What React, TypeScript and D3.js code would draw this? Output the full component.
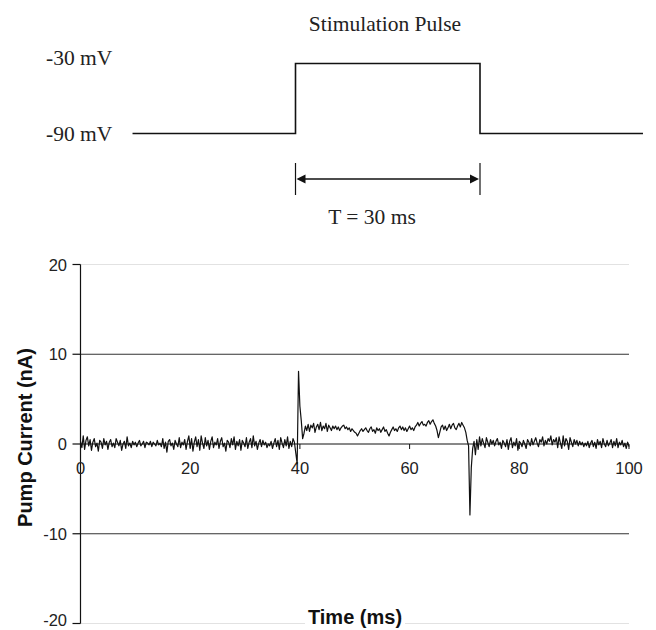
import React from "react";
import * as d3 from "d3";

// ---------- data ----------
const SAMPLE_STEP = 0.25; // ms between samples

// Pump current (nA), 0 – 39.25 ms
const preCurrent = [
  0.3, -0.4, 0.9, -0.6, 0.4, 0.8, -0.2, 0.5, -0.7, 0.2, 0.6, -0.3, 0.1, -0.8, 0.4, 0.2, -0.5, 0.6, -0.1, 0.3,
  -0.6, 0.2, 0.5, -0.3, 0.1, -0.4, 0.6, 0.2, -0.2, 0.4, -0.7, 0.0, 0.3, -0.5, 0.8, -0.2, 0.1, -0.4, 0.3, -0.1,
  0.2, -0.3, 0.1, 0.4, -0.2, 0.0, 0.3, -0.4, 0.2, 0.1, -0.1, 0.3, -0.3, 0.2, 0.0, -0.2, 0.4, -0.1, 0.1, -0.3,
  0.6, -0.5, 0.2, -0.9, 0.3, 0.5, -0.2, 0.1, -0.6, 0.4, 0.0, -0.3, 0.7, -0.4, 0.2, -0.1, 0.5, -0.6, 0.3, 0.9,
  -0.4, 0.6, -0.8, 0.2, 0.8, -0.3, 0.5, -0.7, 0.9, 0.1, -0.5, 0.7, -0.2, 0.4, -0.6, 0.3, 0.8, -0.4, 0.2, -0.1,
  0.6, -0.5, 0.3, 0.7, -0.3, 0.1, -0.8, 0.4, 0.2, -0.4, 0.6, -0.1, 0.8, -0.6, 0.3, -0.2, 0.5, -0.7, 0.4, 0.1,
  -0.3, 0.7, -0.5, 0.2, 0.6, -0.4, 0.9, -0.2, 0.3, -0.6, 0.1, 0.5, -0.3, 0.4, -0.1, 0.2, -0.4, 0.0, -0.2, 0.3,
  -0.5, 0.1, 0.6, -0.3, 0.4, -0.6, 0.7, 0.1, -0.4, 0.5, -0.2, 0.8, -0.5, 0.3, -0.3, 0.6, 0.2, -1.0,
];
// 39.5 – 41.0 ms (onset transient)
const onsetCurrent = [-2.2, 8.1, 4.2, 2.6, 0.6, 1.2, 2.0];
// 41.25 – 70.5 ms (plateau during pulse)
const plateauCurrent = [
  1.5, 2.2, 1.4, 2.1, 1.8, 2.3, 1.3, 1.9, 2.2, 1.6, 2.4, 1.5, 2.0, 1.7, 2.3, 1.4, 2.1, 1.8, 1.5, 2.0,
  1.7, 2.0, 1.6, 1.9, 1.5, 1.8, 2.0, 2.1, 1.7, 1.9, 1.6, 1.8, 1.4, 1.7, 1.5, 1.3, 1.2,
  0.9,
  1.2, 1.5, 1.7, 1.4, 1.6, 1.8, 1.5, 1.3, 1.7, 1.9, 1.4, 1.6, 1.2, 1.8, 1.5, 1.7, 1.3, 1.6, 1.9, 1.4, 1.6, 1.2,
  0.9,
  1.3, 1.6, 1.9, 1.5, 1.7, 1.4, 1.8, 2.0, 1.6, 1.9, 1.5, 1.8, 1.4, 1.7, 2.0, 1.6, 1.8, 1.5, 1.9,
  2.1, 2.4, 2.0, 2.3, 2.5, 2.1, 2.2, 2.0, 2.4, 2.6, 2.2, 2.5, 2.7, 2.3, 2.0,
  1.5, 0.7,
  1.3, 1.9, 2.1, 1.6, 2.0, 1.5, 1.8, 2.2, 1.7, 2.1, 2.3, 1.8, 1.6, 2.0, 2.3, 1.9, 2.4, 2.1,
  1.8, 1.3, 0.4,
];
// 70.75 – 72.0 ms (offset transient)
const offsetCurrent = [-0.2, -7.9, -2.6, -0.5, 0.3, -1.2];
// 72.25 – 100 ms
const postCurrent = [
  0.5, -0.6, 0.8, -0.2, 0.6, 0.1, -0.4, 0.7, 0.2, -0.3, 0.5, 0.0, 0.4, -0.2, 0.3, 0.6, -0.1, 0.2, -0.5, 0.4,
  0.1, -0.3, 0.5, -0.6, 0.3, 0.7, -0.4, 0.2, -0.2, 0.6, -0.7, 0.3, 0.1, -0.3, 0.4, 0.0, -0.5, 0.5, 0.2, -0.2,
  0.6, -0.1, 0.3, 0.7, 0.1, -0.3, 0.5, 0.2, 0.8, -0.2, 0.4, 0.0, 0.6, 0.3, 0.9, -0.1, 0.5, 0.2, 0.7, -0.4,
  0.8, 0.1, -0.5, 0.9, -0.2, 0.6, 0.3, -0.6, 0.7, 0.2, -0.3, 0.5, 0.0, 0.4, -0.2, 0.3, -0.1, 0.2, -0.3, 0.1,
  -0.2, 0.3, -0.4, 0.1, 0.4, -0.3, 0.2, -0.5, 0.5, -0.1, 0.3, -0.4, 0.6, 0.0, -0.3, 0.4, -0.2, 0.1, 0.5, -0.4,
  0.3, -0.2, 0.6, -0.4, 0.2, -0.1, 0.4, -0.3, 0.1, -0.5, 0.2, -0.3,
];

const xTicks = [0, 20, 40, 60, 80, 100];
const yTicks = [20, 10, 0, -10, -20];

// Stimulation pulse schematic (ms relative to pulse onset, mV)
const pulseTime = [-26.5, 0, 0, 30, 30, 56.5];
const pulseVolt = [-90, -90, -30, -30, -90, -90];
const voltLabels = [-30, -90];
const pulseDuration = 30;

// ---------- build series ----------
const currentSeries: { t: number; v: number }[] = [];
[
  { start: 0, vals: preCurrent },
  { start: 39.5, vals: onsetCurrent },
  { start: 41.25, vals: plateauCurrent },
  { start: 70.75, vals: offsetCurrent },
  { start: 72.25, vals: postCurrent },
].forEach((seg) =>
  seg.vals.forEach((v, i) => currentSeries.push({ t: seg.start + i * SAMPLE_STEP, v }))
);

export default function App() {
  const W = 656;
  const H = 630;

  const x = d3.scaleLinear().domain([0, 100]).range([80.5, 629]);
  const y = d3.scaleLinear().domain([-20, 20]).range([623.5, 264.5]);

  const trace = d3
    .line<{ t: number; v: number }>()
    .x((d) => x(d.t))
    .y((d) => y(d.v))(currentSeries) as string;

  const px = d3.scaleLinear().domain([0, 30]).range([295.5, 480]);
  const py = d3.scaleLinear().domain([-90, -30]).range([133.5, 63.5]);
  const pulsePath = d3
    .line<number>()
    .x((d) => px(d))
    .y((_, i) => py(pulseVolt[i]))
    .curve(d3.curveLinear)(pulseTime) as string;

  const serif = "'Liberation Serif', 'Times New Roman', Times, serif";
  const sans = "'Liberation Sans', Arial, Helvetica, sans-serif";

  const aL = px(0);
  const aR = px(pulseDuration);
  const aY = 179;

  return (
    <svg
      width={W}
      height={H}
      style={{ position: "absolute", left: 0, top: 0, background: "#fff" }}
    >
      <rect x={0} y={0} width={W} height={H} fill="#fff" />

      {/* ---- Stimulation pulse schematic ---- */}
      <text x={385} y={31} textAnchor="middle" fontFamily={serif} fontSize={21.5} fill="#222">
        Stimulation Pulse
      </text>
      {voltLabels.map((v) => (
        <text
          key={v}
          x={46}
          y={v === -30 ? py(v) + 1.5 : py(v) + 7.5}
          fontFamily={serif}
          fontSize={21.5}
          fill="#222"
        >
          {`${v} mV`}
        </text>
      ))}
      <path d={pulsePath} fill="none" stroke="#111" strokeWidth={1.6} />

      {/* duration arrow */}
      <line x1={aL} x2={aL} y1={163} y2={195} stroke="#111" strokeWidth={1.2} />
      <line x1={aR} x2={aR} y1={163} y2={195} stroke="#111" strokeWidth={1.2} />
      <line x1={aL + 4} x2={aR - 4} y1={aY} y2={aY} stroke="#111" strokeWidth={1.4} />
      <polygon points={`${aL + 1},${aY} ${aL + 10},${aY - 4.5} ${aL + 10},${aY + 4.5}`} fill="#111" />
      <polygon points={`${aR - 1},${aY} ${aR - 10},${aY - 4.5} ${aR - 10},${aY + 4.5}`} fill="#111" />
      <text x={372} y={224} textAnchor="middle" fontFamily={serif} fontSize={21.5} fill="#222">
        {`T = ${pulseDuration} ms`}
      </text>

      {/* ---- Pump current chart ---- */}
      {[20, -20].map((v) => (
        <line key={v} x1={x(0)} x2={x(100)} y1={y(v)} y2={y(v)} stroke="#e2e2e2" strokeWidth={1} />
      ))}
      {[10, -10].map((v) => (
        <line key={v} x1={x(0)} x2={x(100)} y1={y(v)} y2={y(v)} stroke="#333" strokeWidth={1.2} />
      ))}

      {/* y axis */}
      <line x1={x(0)} x2={x(0)} y1={y(20)} y2={y(-20)} stroke="#111" strokeWidth={1.2} />
      {yTicks.map((v) => (
        <g key={v}>
          <line x1={x(0) - 8} x2={x(0)} y1={y(v)} y2={y(v)} stroke="#111" strokeWidth={1.2} />
          <text
            x={67}
            y={Math.min(y(v) + 6, 626)}
            textAnchor="end"
            fontFamily={sans}
            fontSize={16.5}
            fill="#222"
          >
            {v}
          </text>
        </g>
      ))}

      {/* x axis at 0 */}
      <line x1={x(0)} x2={x(100)} y1={y(0)} y2={y(0)} stroke="#111" strokeWidth={1} />
      {xTicks.map((t) => (
        <g key={t}>
          {t > 0 && (
            <line x1={x(t)} x2={x(t)} y1={y(0)} y2={y(0) + 5} stroke="#111" strokeWidth={1} />
          )}
          <text
            x={x(t)}
            y={474}
            textAnchor="middle"
            fontFamily={sans}
            fontSize={16.5}
            fill="#222"
          >
            {t}
          </text>
        </g>
      ))}

      {/* trace */}
      <path d={trace} fill="none" stroke="#111" strokeWidth={1.2} strokeLinejoin="round" />

      {/* axis titles */}
      <text
        transform={`translate(32, 437.5) rotate(-90)`}
        textAnchor="middle"
        fontFamily={sans}
        fontWeight="bold"
        fontSize={20}
        fill="#111"
      >
        Pump Current (nA)
      </text>
      <rect x={305} y={606} width={100} height={24} fill="#fff" />
      <text
        x={355}
        y={624}
        textAnchor="middle"
        fontFamily={sans}
        fontWeight="bold"
        fontSize={20}
        fill="#111"
      >
        Time (ms)
      </text>
    </svg>
  );
}
